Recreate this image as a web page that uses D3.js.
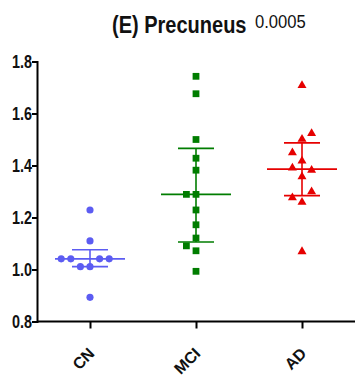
<!DOCTYPE html>
<html>
<head>
<meta charset="utf-8">
<script src="https://cdn.jsdelivr.net/npm/d3@7/dist/d3.min.js"></script>
<style>
  html, body { margin: 0; padding: 0; background: #fff; }
  svg { display: block; font-family: "Liberation Sans", Arial, sans-serif; }
</style>
</head>
<body>
<svg id="chart" width="355" height="376"></svg>
<script>
// Groups and their marker colours
const groups = ["CN", "MCI", "AD"];
const groupColors = ["#5c5cf2", "#007d00", "#e60000"];

// Per-subject values (ratio) for each group
const cnValues  = [1.229, 1.110, 1.041, 1.041, 1.041, 1.041, 1.011, 1.011, 0.893];
const mciValues = [1.743, 1.676, 1.500, 1.428, 1.382, 1.289, 1.289, 1.229, 1.172, 1.121, 1.091, 1.072, 0.993];
const adValues  = [1.708, 1.523, 1.501, 1.449, 1.418, 1.391, 1.382, 1.357, 1.299, 1.276, 1.259, 1.069];

// Horizontal slot of each point inside its column (scatter dodge)
const cnSlots  = [0, 0, -3, -2, 1, 2, -1, 0, 0];
const mciSlots = [0, 0, 0, 0, 0, -1, 0, 0, 0, 0, -1, 0, 0];
const adSlots  = [0, 1, 0, -1, 0, -1, 1, 0, 1, -1, 0, 0];

// Median and interquartile range per group
const medians = [1.041, 1.289, 1.386];
const q1s     = [1.011, 1.106, 1.284];
const q3s     = [1.076, 1.466, 1.487];

const yTicks = [0.8, 1.0, 1.2, 1.4, 1.6, 1.8];

const svg = d3.select("#chart");

const x = d3.scalePoint().domain(groups).range([37, 355]).padding(0.5);
const y = d3.scaleLinear().domain([0.8, 1.8]).range([321.5, 61.5]);
const slot = d3.scaleLinear().domain([0, 1]).range([0, 9.6]);

// Title: bold condensed heading followed by the p-value
svg.append("g")
  .attr("transform", "translate(112,33) scale(0.87,1)")
  .append("text")
  .attr("font-weight", "bold").attr("font-size", 23).attr("fill", "#111")
  .text("(E) Precuneus");
svg.append("g")
  .attr("transform", "translate(255,27.5) scale(0.95,1)")
  .append("text")
  .attr("font-size", 17.5).attr("fill", "#111")
  .text("0.0005");

// Y axis
const yAxis = svg.append("g")
  .attr("transform", "translate(37,0)")
  .call(d3.axisLeft(y).tickValues(yTicks).tickFormat(d3.format(".1f")).tickSize(5).tickPadding(1));
yAxis.select(".domain").attr("stroke", "#000").attr("stroke-width", 2);
yAxis.selectAll(".tick line").attr("stroke", "#000").attr("stroke-width", 2);
yAxis.selectAll(".tick text")
  .attr("fill", "#111").attr("font-size", 18).attr("font-weight", "bold")
  .attr("font-family", "Liberation Sans, Arial, sans-serif")
  .attr("x", 0).attr("dy", "0.36em")
  .attr("transform", "translate(-5,0) scale(0.8,1)");

// X axis
const xAxis = svg.append("g")
  .attr("transform", `translate(0,${y(0.8)})`)
  .call(d3.axisBottom(x).tickSize(7).tickSizeOuter(0));
xAxis.select(".domain").attr("stroke", "#000").attr("stroke-width", 2)
  .attr("d", "M37,0H355");
xAxis.selectAll(".tick line").attr("stroke", "#000").attr("stroke-width", 2);
xAxis.selectAll(".tick text")
  .attr("fill", "#111").attr("font-size", 16).attr("font-weight", "bold")
  .attr("font-family", "Liberation Sans, Arial, sans-serif")
  .attr("text-anchor", "end")
  .attr("dy", null).attr("y", 0)
  .attr("transform", "translate(5,33) rotate(-45)");

// Points
const allValues = [cnValues, mciValues, adValues];
const allSlots = [cnSlots, mciSlots, adSlots];
const shapes = [d3.symbolCircle, d3.symbolSquare, d3.symbolTriangle];
const sizes = [40, 46, 35];

groups.forEach((g, i) => {
  const pts = allValues[i].map((v, j) => ({ v, s: allSlots[i][j] }));
  svg.append("g")
    .selectAll("path")
    .data(pts)
    .join("path")
    .attr("d", d3.symbol().type(shapes[i]).size(sizes[i]))
    .attr("transform", d => `translate(${x(g) + slot(d.s)},${y(d.v)})`)
    .attr("fill", groupColors[i]);
});

// Median and IQR bars
groups.forEach((g, i) => {
  const cx = x(g);
  const gg = svg.append("g").attr("stroke", groupColors[i]).attr("stroke-width", 1.6);
  gg.append("line").attr("x1", cx).attr("x2", cx).attr("y1", y(q1s[i])).attr("y2", y(q3s[i]));
  gg.append("line").attr("x1", cx - 35).attr("x2", cx + 35).attr("y1", y(medians[i])).attr("y2", y(medians[i]));
  [q1s[i], q3s[i]].forEach(q => {
    gg.append("line").attr("x1", cx - 18).attr("x2", cx + 18).attr("y1", y(q)).attr("y2", y(q));
  });
});
</script>
</body>
</html>
